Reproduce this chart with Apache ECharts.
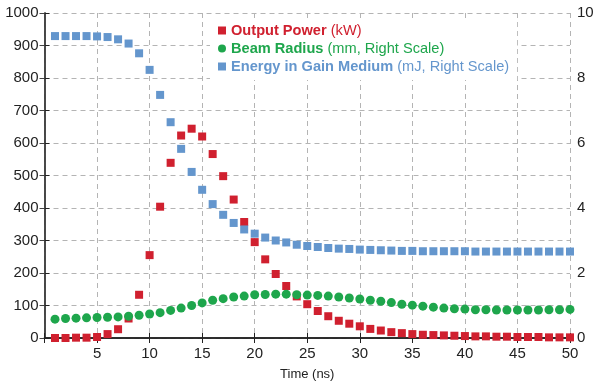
<!DOCTYPE html>
<html><head><meta charset="utf-8">
<script src="https://cdn.jsdelivr.net/npm/echarts@6/dist/echarts.min.js"></script>
<style>html,body{margin:0;padding:0;background:#fff}#c{width:600px;height:386px}</style>
</head><body><div id="c"></div>
<script>
const times = Array.from({length:50},(_,i)=>i+1);
const outputPower = [0,0,1,1,3,12,27,60,133,255,404,539,623,644,620,566,498,426,357,295,242,197,160,128,104,83,67,53,44,36,28,23,18,15,12,10,9,8,7,6,5,5,4,4,3,3,3,2,2,2];
const beamRadius = [0.58,0.60,0.61,0.62,0.63,0.64,0.65,0.67,0.70,0.74,0.78,0.85,0.92,1.00,1.08,1.16,1.21,1.26,1.29,1.33,1.34,1.35,1.35,1.33,1.32,1.31,1.29,1.26,1.23,1.20,1.16,1.13,1.09,1.04,1.01,0.98,0.95,0.92,0.90,0.89,0.87,0.87,0.86,0.86,0.86,0.86,0.86,0.87,0.87,0.88];
const gainEnergy = [9.29,9.29,9.29,9.29,9.28,9.26,9.19,9.06,8.76,8.25,7.48,6.64,5.82,5.11,4.56,4.12,3.79,3.54,3.34,3.21,3.09,3.00,2.94,2.87,2.83,2.80,2.77,2.75,2.74,2.72,2.71,2.70,2.69,2.68,2.68,2.67,2.67,2.67,2.67,2.67,2.66,2.66,2.66,2.66,2.66,2.66,2.66,2.66,2.66,2.66];
const xTicks = [5,10,15,20,25,30,35,40,45,50];
const leftTicks = [0,100,200,300,400,500,600,700,800,900,1000];
const rightTicks = [0,2,4,6,8,10];
const names = ['Output Power','Beam Radius','Energy in Gain Medium'];
const units = ['(kW)','(mm, Right Scale)','(mJ, Right Scale)'];
const colors = ['#d0202f','#1ea64c','#6496cd'];

const pair = (a)=>times.map((t,i)=>[t,a[i]]);
const font = 'Liberation Sans';
const fs = 14.6;
const chart = echarts.init(document.getElementById('c'));
const grid = {left:44.5, right:30, top:13, bottom:47};
const gridLine = {show:true, lineStyle:{color:'#b4b4b4', type:[5,4], width:1}};
chart.setOption({
  animation:false,
  grid: grid,
  legend: {
    data: names,
    orient:'vertical', left:210, top:18, width:304,
    backgroundColor:'#fff', padding:[5,8,6,8],
    itemWidth:8, itemHeight:8, itemGap:3,
    formatter: function(n){ const k = names.indexOf(n); const p=['r','g','b'][k]; return '{'+p+'b|'+n+'} {'+p+'n|'+units[k]+'}'; },
    textStyle: { fontFamily: font, fontSize: fs, rich: {
      rb:{color:colors[0],fontWeight:'bold',fontSize:fs,fontFamily:font}, rn:{color:colors[0],fontSize:fs,fontFamily:font},
      gb:{color:colors[1],fontWeight:'bold',fontSize:fs,fontFamily:font}, gn:{color:colors[1],fontSize:fs,fontFamily:font},
      bb:{color:colors[2],fontWeight:'bold',fontSize:fs,fontFamily:font}, bn:{color:colors[2],fontSize:fs,fontFamily:font}
    }}
  },
  xAxis: [
    {type:'value', min:0, max:50, interval:5, position:'bottom',
     name:'Time (ns)', nameLocation:'middle', nameGap:30,
     nameTextStyle:{fontFamily:font, fontSize:13, color:'#222'},
     axisLine:{show:true, onZero:false, lineStyle:{color:'#222', width:1.5}},
     axisTick:{show:true, inside:true, length:5, lineStyle:{color:'#222'}},
     axisLabel:{fontFamily:font, fontSize:15, color:'#222', margin:8,
       formatter: v => xTicks.includes(v) ? String(v) : ''},
     splitLine: gridLine},
    {type:'value', min:0, max:50, interval:5, position:'top',
     axisLine:{show:true, lineStyle:{color:'#222', width:1.5}},
     axisTick:{show:true, inside:true, length:5, lineStyle:{color:'#222'}},
     axisLabel:{show:false}, splitLine:{show:false}}
  ],
  yAxis: [
    {type:'value', min:0, max:1000, interval:100, position:'left',
     axisLine:{show:true, lineStyle:{color:'#222', width:1.5}},
     axisTick:{show:true, inside:true, length:5, lineStyle:{color:'#222'}},
     axisLabel:{fontFamily:font, fontSize:15, color:'#222', margin:6,
       formatter: v => leftTicks.includes(v) ? String(v) : ''},
     splitLine: gridLine},
    {type:'value', min:0, max:10, interval:1, position:'right',
     axisLine:{show:true, lineStyle:{color:'#444', width:1.5}},
     axisTick:{show:true, inside:true, length:5, lineStyle:{color:'#444'}},
     axisLabel:{fontFamily:font, fontSize:15, color:'#222', margin:7,
       formatter: v => rightTicks.includes(v) ? String(v) : ''},
     splitLine:{show:false}}
  ],
  series: [
    {name:names[0], type:'scatter', xAxisIndex:0, yAxisIndex:0, symbol:'rect', symbolSize:8,
     itemStyle:{color:colors[0], opacity:1}, data: pair(outputPower), z:2},
    {name:names[2], type:'scatter', xAxisIndex:0, yAxisIndex:1, symbol:'rect', symbolSize:8,
     itemStyle:{color:colors[2], opacity:1}, data: pair(gainEnergy), z:3},
    {name:names[1], type:'scatter', xAxisIndex:0, yAxisIndex:1, symbol:'circle', symbolSize:9,
     itemStyle:{color:colors[1], opacity:1}, data: pair(beamRadius), z:4}
  ]
});
</script></body></html>
